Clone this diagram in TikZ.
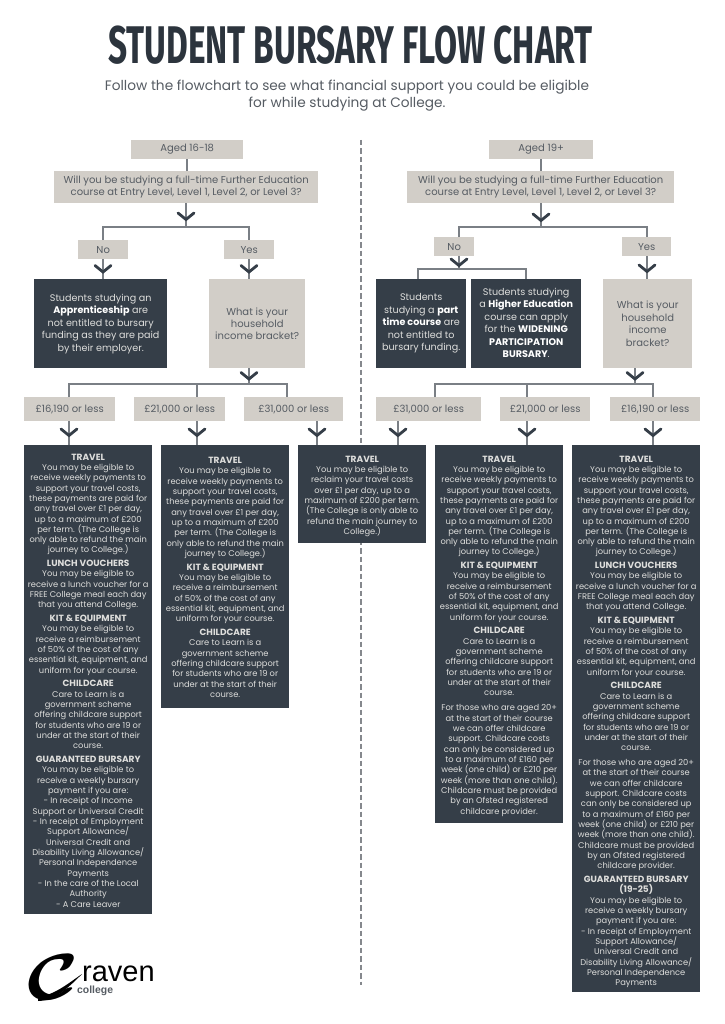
\documentclass[tikz,border=0pt]{standalone}
\usepackage{amsmath,amsbsy}
\usepackage{fontspec}
\setmainfont{Poppins}
\newfontfamily\titlefont[FakeStretch=0.63]{Fira Sans}
\newfontfamily\logofont{Liberation Sans}
\usetikzlibrary{calc}
\definecolor{dark}{HTML}{353E48}
\definecolor{beige}{HTML}{D2CEC8}
\definecolor{ink}{HTML}{565C63}
\definecolor{pale}{HTML}{DEDEDC}
\definecolor{wire}{HTML}{7A7F85}
\definecolor{dashink}{HTML}{85888D}
\definecolor{titleink}{HTML}{2C343D}
\tikzset{
  beigebox/.style={fill=beige,text=ink,inner sep=0pt,anchor=north west,align=center},
  wirestyle/.style={draw=wire,line width=1.5pt},
  divider/.style={draw=dashink,line width=1.1pt,dash pattern=on 5.5pt off 3pt},
  chevronstyle/.style={draw=dark,line width=2.8pt,line cap=round},
  stmt/.style={fill=dark,text=pale,inner sep=0pt,anchor=north west},
}
\newcommand{\bb}[6]{% name x0 y0 x1 y1 text
  \pgfmathsetmacro\boxw{#4-#2}\pgfmathsetmacro\boxh{#5-#3}
  \node[beigebox,minimum width=\boxw pt,minimum height=\boxh pt,font=\fontsize{10}{12.4}\selectfont] (#1) at (#2,#3) {#6};}
\newcommand{\db}[7]{% name x y w h topgap text
  \node[stmt] (#1) at (#2,#3)
   {\parbox[c][#5pt][t]{#4pt}{\centering\fontsize{8.3}{10.33}\selectfont\vspace*{#6}#7\par}};}
\newcommand{\stbox}[7]{% name x y w h topgap text: statement box
  \node[stmt] (#1) at (#2,#3)
   {\parbox[c][#5pt][t]{#4pt}{\centering\fontsize{9.6}{12.5}\selectfont\vspace*{#6}#7\par}};}
\newcommand{\chev}[2]{\draw[chevronstyle,shift={(#1,#2)}] (-8,-3.5) .. controls (-4,-1) .. (0,3) .. controls (4,-1) .. (8,-3.5);}
\newcommand{\vlink}[3]{\coordinate (vx) at (#1,0); \draw[wirestyle] (vx |- #2.south) -- (vx |- #3.north);}
\newcommand{\hd}[1]{{\fontsize{9}{10.33}\selectfont\textbf{#1}}}
\newcommand{\wb}[1]{\textbf{\textcolor{white}{#1}}}
\newcommand{\tone}{You may be eligible to\\receive weekly payments to\\support your travel costs,\\these payments are paid for\\any travel over £1 per day,\\up to a maximum of £200\\per term. (The College is\\only able to refund the main\\journey to College.)}
\newcommand{\ttwo}{You may be eligible to\\receive a reimbursement\\of 50\% of the cost of any\\essential kit, equipment, and\\uniform for your course.}
\newcommand{\tthree}{Care to Learn is a\\government scheme\\offering childcare support\\for students who are 19 or\\under at the start of their\\course.}
\newcommand{\tfour}{For those who are aged 20+\\at the start of their course\\we can offer childcare\\support. Childcare costs\\can only be considered up\\to a maximum of £160 per\\week (one child) or £210 per\\week (more than one child).\\Childcare must be provided\\by an Ofsted registered\\childcare provider.}
\newcommand{\tlunch}{You may be eligible to\\receive a lunch voucher for a\\FREE College meal each day\\that you attend College.}
\begin{document}
\begin{tikzpicture}[x=1pt,y=-1pt]
\useasboundingbox (0,0) rectangle (724,1024);
\fill[white] (0,0) rectangle (724,1024);
\node[text=titleink,inner sep=0pt,font=\titlefont\fontsize{53}{53}\bfseries\selectfont] (title) at (350.5,45.5) {STUDENT BURSARY FLOW CHART};
\node[text=ink,inner sep=0pt,align=center,font=\fontsize{13.7}{17}\selectfont] (sub) at (347,95.5) {Follow the flowchart to see what financial support you could be eligible\\for while studying at College.};
\coordinate (d1) at (361,140); \coordinate (d2) at (361,985);
\draw[divider] (d1) -- (d2);
% left beige
\bb{a1}{131}{139.5}{243}{159}{Aged 16-18}
\bb{q1}{54}{171}{318}{203}{Will you be studying a full-time Further Education\\course at Entry Level, Level 1, Level 2, or Level 3?}
\bb{no1}{78}{240}{128}{259}{No}
\bb{yes1}{224}{240}{274}{259}{Yes}
\bb{what1}{209}{279}{305}{368}{What is your\\household\\income bracket?}
\bb{i11}{24}{397}{115}{421}{£16,190 or less}
\bb{i12}{134}{397}{225}{421}{£21,000 or less}
\bb{i13}{244}{397}{343}{421}{£31,000 or less}
% right beige
\bb{a2}{489}{139.5}{593}{159}{Aged 19+}
\bb{q2}{407}{171}{674}{203}{Will you be studying a full-time Further Education\\course at Entry Level, Level 1, Level 2, or Level 3?}
\bb{no2}{434}{237}{474}{256}{No}
\bb{yes2}{622}{237}{671}{256}{Yes}
\bb{what2}{603}{279}{692}{368}{What is your\\household\\income\\bracket?}
\bb{i21}{376}{397}{481}{421}{£31,000 or less}
\bb{i22}{500}{397}{590}{421}{£21,000 or less}
\bb{i23}{610}{397}{700}{421}{£16,190 or less}
% dark statement boxes
\stbox{ap}{34}{279}{133}{89}{14.5pt}{Students studying an\\\wb{Apprenticeship} are\\not entitled to bursary\\funding as they are paid\\by their employer.}
\stbox{pt}{376}{279}{90}{89}{14.5pt}{Students\\studying a \wb{part}\\\wb{time course} are\\not entitled to\\bursary funding.}
\stbox{he}{471}{279}{110}{89}{8.5pt}{Students studying\\a \wb{Higher Education}\\course can apply\\for the \wb{WIDENING}\\\wb{PARTICIPATION}\\\wb{BURSARY}.}
% detail boxes
\db{t1}{24}{445}{128}{469}{8.5pt}{\hd{TRAVEL}\\\tone\\[3.3pt]\hd{LUNCH VOUCHERS}\\\tlunch\\[3.3pt]\hd{KIT \& EQUIPMENT}\\\ttwo\\[3.3pt]\hd{CHILDCARE}\\\tthree\\[3.3pt]\hd{GUARANTEED BURSARY}\\You may be eligible to\\receive a weekly bursary\\payment if you are:\\- In receipt of Income\\Support or Universal Credit\\- In receipt of Employment\\Support Allowance/\\Universal Credit and\\Disability Living Allowance/\\Personal Independence\\Payments\\- In the care of the Local\\Authority\\- A Care Leaver}
\db{t2}{161}{445}{128}{263}{12pt}{\hd{TRAVEL}\\\tone\\[3.3pt]\hd{KIT \& EQUIPMENT}\\\ttwo\\[3.3pt]\hd{CHILDCARE}\\\tthree}
\db{t3}{298}{445}{128}{98}{10.5pt}{\hd{TRAVEL}\\You may be eligible to\\reclaim your travel costs\\over £1 per day, up to a\\maximum of £200 per term.\\(The College is only able to\\refund the main journey to\\College.)}
\db{t4}{435}{445}{128}{378}{10.5pt}{\hd{TRAVEL}\\\tone\\[3.3pt]\hd{KIT \& EQUIPMENT}\\\ttwo\\[3.3pt]\hd{CHILDCARE}\\\tthree\\[4.5pt]\tfour}
\db{t5}{572}{445}{128}{547}{10.5pt}{\hd{TRAVEL}\\\tone\\[3.3pt]\hd{LUNCH VOUCHERS}\\\tlunch\\[3.3pt]\hd{KIT \& EQUIPMENT}\\\ttwo\\[3.3pt]\hd{CHILDCARE}\\\tthree\\[4.5pt]\tfour\\[3.3pt]\hd{GUARANTEED BURSARY}\\\hd{(19-25)}\\You may be eligible to\\receive a weekly bursary\\payment if you are:\\- In receipt of Employment\\Support Allowance/\\Universal Credit and\\Disability Living Allowance/\\Personal Independence\\Payments}
% left connectors
\draw[wirestyle] (a1.south) -- (a1.south |- q1.north);
\coordinate (bl1) at (186,227);
\draw[wirestyle] (bl1 |- q1.south) -- (bl1);
\draw[wirestyle] (no1.north) -- (no1.north |- bl1) -- (yes1.north |- bl1) -- (yes1.north);
\draw[wirestyle] (no1.south) -- (no1.south |- ap.north);
\draw[wirestyle] (yes1.south) -- (yes1.south |- what1.north);
\coordinate (bl2) at (249,384);
\draw[wirestyle] (bl2 |- what1.south) -- (bl2);
\coordinate (cl1) at (69,384); \coordinate (cl2) at (197,384); \coordinate (cl3) at (287,384);
\draw[wirestyle] (cl1 |- i11.north) -- (cl1) -- (cl3) -- (cl3 |- i13.north);
\draw[wirestyle] (cl2) -- (cl2 |- i12.north);
\vlink{69}{i11}{t1}\vlink{197}{i12}{t2}\vlink{317}{i13}{t3}
% right connectors
\draw[wirestyle] (a2.south) -- (a2.south |- q2.north);
\coordinate (br1) at (541,227);
\draw[wirestyle] (br1 |- q2.south) -- (br1);
\coordinate (nx) at (459,227); \coordinate (yx) at (647,227);
\draw[wirestyle] (nx |- no2.north) -- (nx) -- (yx) -- (yx |- yes2.north);
\coordinate (br2) at (459,269);
\draw[wirestyle] (nx |- no2.south) -- (br2);
\coordinate (pc) at (418,269); \coordinate (hc) at (526,269);
\draw[wirestyle] (pc |- pt.north) -- (pc) -- (hc) -- (hc |- he.north);
\draw[wirestyle] (yx |- yes2.south) -- (yx |- what2.north);
\coordinate (br3) at (635,384);
\draw[wirestyle] (br3 |- what2.south) -- (br3);
\coordinate (cr1) at (435,384); \coordinate (cr2) at (527,384); \coordinate (cr3) at (653,384);
\draw[wirestyle] (cr1 |- i21.north) -- (cr1) -- (cr3) -- (cr3 |- i23.north);
\draw[wirestyle] (cr2) -- (cr2 |- i22.north);
\vlink{398}{i21}{t4}\vlink{527}{i22}{t4}\vlink{653}{i23}{t5}
% chevrons
\chev{186}{216.5}\chev{103}{269}\chev{249}{269}\chev{249}{376}
\chev{69}{432.5}\chev{197}{432.5}\chev{317}{432.5}
\chev{541}{217.5}\chev{459}{262.5}\chev{647}{268.5}\chev{635}{376}
\chev{398}{432.5}\chev{527}{432.5}\chev{653}{432.5}
% logo
\node[text=black,inner sep=0pt,xscale=7.8,yscale=6.5] (logoc) at (53,977) {$\boldsymbol{\mathcal{C}}$};
\fill[black] (38,1001) .. controls (55,1001) and (70,986) .. (82,974) .. controls (70,982) and (55,995) .. (38,997) -- cycle;
\node[text=black,inner sep=0pt,anchor=base west,font=\logofont\fontsize{29}{29}\selectfont] (logor) at (82,981) {raven};
\node[text=ink,inner sep=0pt,anchor=base west,font=\logofont\fontsize{10.4}{10.4}\bfseries\selectfont] (logol) at (77,993) {college};
\end{tikzpicture}
\end{document}
